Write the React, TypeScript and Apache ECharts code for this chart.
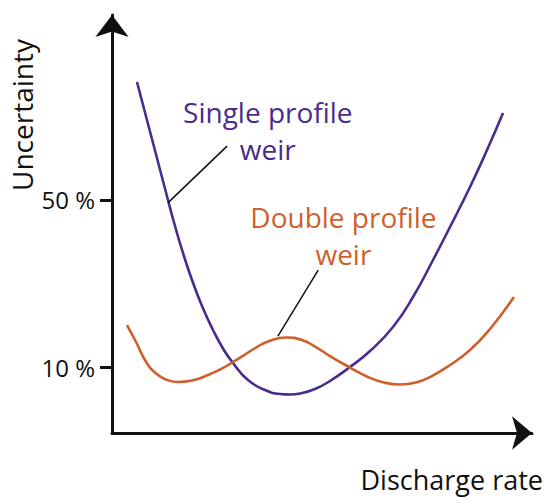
import React, { useEffect, useRef } from "react";
import * as echarts from "echarts";

// Single profile weir curve (x: discharge rate, y: uncertainty %)
const singleX = [5.95, 9.52, 13.33, 15.0, 16.9, 19.05, 21.43, 24.05, 26.43, 28.81, 32.38, 36.43, 40.0, 42.38, 44.76, 48.33, 51.9, 56.67, 61.43, 66.9, 71.67, 76.43, 80.48, 85.24, 89.29, 93.1];
const singleY = [78.26, 64.61, 50.0, 43.77, 37.31, 30.84, 24.61, 18.86, 14.43, 10.96, 6.89, 4.49, 3.53, 3.41, 3.65, 4.73, 6.65, 10.0, 13.83, 19.58, 26.77, 35.63, 43.53, 53.11, 61.98, 70.84];

// Double profile weir curve
const doubleX = [3.57, 5.48, 8.57, 10.95, 12.86, 15.71, 19.05, 22.86, 26.19, 28.81, 31.67, 34.29, 37.14, 41.43, 45.24, 48.33, 51.9, 56.67, 60.95, 64.76, 68.57, 72.38, 75.71, 80.48, 85.24, 90.0, 95.71];
const doubleY = [20.06, 16.47, 10.48, 8.08, 7.01, 6.41, 6.77, 8.08, 9.64, 11.2, 12.99, 14.67, 16.11, 17.07, 16.47, 14.91, 12.63, 9.88, 7.6, 6.29, 5.81, 6.29, 7.6, 10.48, 14.07, 19.1, 26.77];

// Tick labels on the uncertainty axis
const yTicks = [10, 50];

// Annotation anchors (data coordinates)
const singleLabelAt = [37.1, 66.6];
const singleLeader = [[13.3, 49.3], [27.4, 62.9]];
const doubleLabelAt = [55.1, 41.4];
const doubleLeader = [[39.5, 17.4], [49.1, 33.2]];

const PURPLE = "#4a2c8c";
const ORANGE = "#cf5f2c";
const INK = "#111111";
const FONT = "Open Sans";

const zip = (xs: number[], ys: number[]) => xs.map((x, i) => [x, ys[i]]);

export default function App() {
  const ref = useRef<HTMLDivElement>(null);
  useEffect(() => {
    if (!ref.current) return;
    const chart = echarts.init(ref.current, undefined, { renderer: "svg" });
    const leader = (pts: number[][]) => ({
      silent: true,
      symbol: ["none", "none"],
      label: { show: false },
      lineStyle: { color: INK, width: 1.5, type: "solid" },
      data: [[{ coord: pts[0] }, { coord: pts[1] }]],
    });
    const label = (at: number[], text: string, color: string) => ({
      silent: true,
      symbol: "circle",
      symbolSize: 1,
      itemStyle: { color: "transparent" },
      label: {
        show: true,
        position: "inside",
        formatter: text,
        color,
        fontFamily: FONT,
        fontSize: 28,
        lineHeight: 37,
        align: "center",
      },
      data: [{ coord: at }],
    });
    chart.setOption({
      animation: false,
      grid: { left: 112, right: 18, top: 15, bottom: 70 },
      xAxis: {
        type: "value",
        min: 0,
        max: 100,
        axisLine: {
          show: true,
          onZero: false,
          symbol: ["none", "arrow"],
          symbolSize: [25, 20],
          lineStyle: { color: INK, width: 3 },
        },
        axisTick: { show: false },
        axisLabel: { show: false },
        splitLine: { show: false },
      },
      yAxis: {
        type: "value",
        min: -5.8,
        max: 94.3,
        axisLine: {
          show: true,
          onZero: false,
          symbol: ["none", "arrow"],
          symbolSize: [25, 22],
          lineStyle: { color: INK, width: 3 },
        },
        axisTick: {
          show: true,
          customValues: yTicks,
          length: 12,
          lineStyle: { color: INK, width: 3 },
        },
        axisLabel: {
          show: true,
          customValues: yTicks,
          formatter: (v: number) => `${v} %`,
          color: INK,
          fontFamily: FONT,
          fontSize: 24,
          margin: 17,
        },
        splitLine: { show: false },
      },
      graphic: [
        {
          type: "text",
          x: 543,
          y: 479,
          style: {
            text: "Discharge rate",
            fill: INK,
            font: `27px "${FONT}"`,
            align: "right",
            verticalAlign: "middle",
          },
        },
        {
          type: "text",
          x: 22,
          y: 115,
          rotation: Math.PI / 2,
          style: {
            text: "Uncertainty",
            fill: INK,
            font: `28px "${FONT}"`,
            align: "center",
            verticalAlign: "middle",
          },
        },
      ],
      series: [
        {
          type: "line",
          name: "Single profile weir",
          data: zip(singleX, singleY),
          smooth: 0.5,
          showSymbol: false,
          lineStyle: { color: PURPLE, width: 2.6 },
          itemStyle: { color: PURPLE },
          markLine: leader(singleLeader),
          markPoint: label(singleLabelAt, "Single profile\nweir", PURPLE),
        },
        {
          type: "line",
          name: "Double profile weir",
          data: zip(doubleX, doubleY),
          smooth: 0.5,
          showSymbol: false,
          lineStyle: { color: ORANGE, width: 2.6 },
          itemStyle: { color: ORANGE },
          markLine: leader(doubleLeader),
          markPoint: label(doubleLabelAt, "Double profile\nweir", ORANGE),
        },
      ],
    });
    return () => chart.dispose();
  }, []);
  return (
    <div
      ref={ref}
      style={{ position: "absolute", left: 0, top: 0, width: 550, height: 503, background: "#fff" }}
    />
  );
}
